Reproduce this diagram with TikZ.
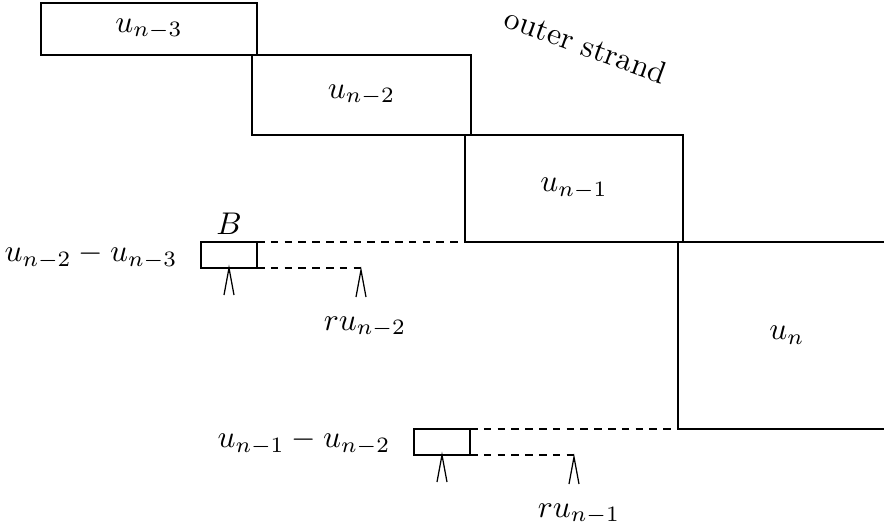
\documentclass[tikz,border=0pt]{standalone}
\usetikzlibrary{positioning}
\newlength\pxu
\setlength\pxu{0.0112cm}
\tikzset{
  strandbox/.style={draw, line width=0.75pt, rectangle, anchor=north west,
                    inner sep=0pt, outer sep=0pt},
  diffbox/.style={draw, line width=0.75pt, rectangle, anchor=north west,
                  minimum width=56\pxu, minimum height=26\pxu, inner sep=0pt, outer sep=0pt},
  guide/.style={line width=0.4pt, dash pattern=on 2.4pt off 2pt},
  uptip/.pic={\draw[line width=0.4pt] (-5,27) -- (0,0) -- (5,27);}
}
\begin{document}
\begin{tikzpicture}[x=\pxu,y=-\pxu]
  \useasboundingbox (0,0) rectangle (884,531);
  % the strand boxes, stepping down to the right
  \node[strandbox, minimum width=216\pxu, minimum height=52\pxu] (s3) at (41,3) {$u_{n-3}$};
  \node[strandbox, minimum width=219\pxu, minimum height=80\pxu] (s2) at (252,55) {$u_{n-2}$};
  \node[strandbox, minimum width=218\pxu, minimum height=107\pxu] (s1) at (465,135) {$u_{n-1}$};
  \node[strandbox, minimum width=218\pxu, minimum height=187\pxu] (s0) at (678,242) {$u_n$};
  \node[rotate=-20] (outer) at (586,45) {outer strand};

  % first difference box
  \node[diffbox] (d1) at (201,242) {};
  \node[above=-1pt of d1] (Blab) {$B$};
  \node (d1lab) at (91,256) {$u_{n-2}-u_{n-3}$};
  \coordinate (r1) at (361,268);
  \draw[guide] (d1.north east) -- (s1.south west);
  \draw[guide] (d1.south east) -- (r1);
  \pic at (d1.south) {uptip};
  \pic at ([yshift=-2\pxu]r1) {uptip};
  \node (r1lab) at (365,327) {$ru_{n-2}$};

  % second difference box
  \node[diffbox] (d2) at (414,429) {};
  \node (d2lab) at (304,442) {$u_{n-1}-u_{n-2}$};
  \coordinate (r2) at (574,455);
  \draw[guide] (d2.north east) -- (s0.south west);
  \draw[guide] (d2.south east) -- (r2);
  \pic at (d2.south) {uptip};
  \pic at ([yshift=-2\pxu]r2) {uptip};
  \node (r2lab) at (579,514) {$ru_{n-1}$};
\end{tikzpicture}
\end{document}
